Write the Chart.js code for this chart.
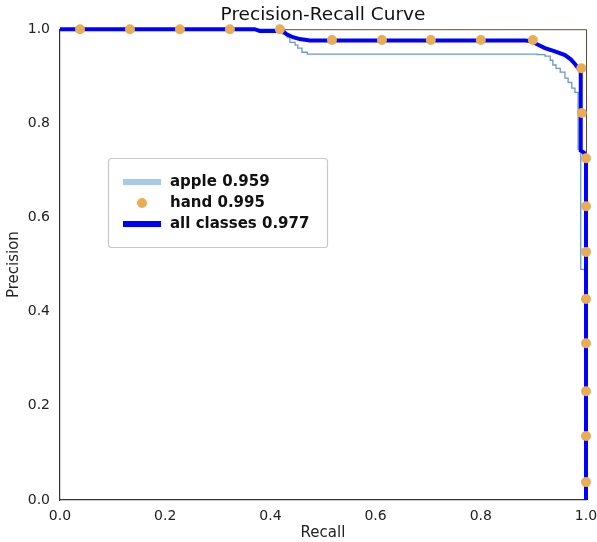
<!DOCTYPE html>
<html>
<head>
<meta charset="utf-8">
<script src="https://cdn.jsdelivr.net/npm/chart.js@4/dist/chart.umd.min.js"></script>
<style>
  html, body { margin: 0; padding: 0; background: #fff; }
  #wrap { width: 597px; height: 542px; position: relative; }
</style>
</head>
<body>
<div id="wrap"><canvas id="prChart"></canvas></div>
<script>
// series labels
const seriesLabels = ['apple 0.959', 'hand 0.995', 'all classes 0.977'];
const axisTicks = [0, 0.2, 0.4, 0.6, 0.8, 1.0];

// apple curve
const appleRecall    = [0, 0.40, 0.418, 0.424, 0.432, 0.437, 0.447, 0.452, 0.46, 0.47, 0.907, 0.922, 0.932, 0.937, 0.943, 0.951, 0.960, 0.966, 0.973, 0.979, 0.985, 0.985, 0.99, 0.99, 0.998, 0.998];
const applePrecision = [1.0, 1.0, 0.996, 0.989, 0.983, 0.972, 0.966, 0.960, 0.951, 0.947, 0.946, 0.943, 0.934, 0.924, 0.917, 0.909, 0.896, 0.887, 0.875, 0.866, 0.856, 0.745, 0.74, 0.49, 0.48, 0];

// hand points
const handRecall    = [0.038, 0.133, 0.228, 0.323, 0.418, 0.517, 0.612, 0.705, 0.80, 0.899, 0.991, 0.992, 1.0, 1.0, 1.0, 1.0, 1.0, 1.0, 1.0, 1.0];
const handPrecision = [1.0, 1.0, 1.0, 1.0, 1.0, 0.977, 0.977, 0.977, 0.977, 0.977, 0.917, 0.822, 0.726, 0.624, 0.527, 0.427, 0.333, 0.231, 0.136, 0.038];

// all classes curve
const allRecall    = [0, 0.37, 0.38, 0.424, 0.431, 0.443, 0.456, 0.475, 0.884, 0.894, 0.907, 0.922, 0.941, 0.960, 0.971, 0.979, 0.99, 0.99, 0.996, 1.0, 1.0];
const allPrecision = [1.0, 1.0, 0.996, 0.996, 0.989, 0.983, 0.979, 0.976, 0.976, 0.975, 0.968, 0.960, 0.953, 0.945, 0.936, 0.926, 0.91, 0.742, 0.738, 0.722, 0];

const toPoints = (xs, ys) => xs.map((x, i) => ({ x: x, y: ys[i] }));

const FONT = "'DejaVu Sans', sans-serif";

const frame = {
    id: 'frame',
    beforeDatasetsDraw(chart) {
        const { ctx, chartArea: a } = chart;
        ctx.save();
        ctx.strokeStyle = '#5a4a3c';
        ctx.lineWidth = 1;
        ctx.beginPath();
        ctx.moveTo(a.left, a.top + 0.5);
        ctx.lineTo(a.right + 0.5, a.top + 0.5);
        ctx.lineTo(a.right + 0.5, a.bottom);
        ctx.stroke();
        ctx.restore();
    },
    afterDraw(chart) {
        // legend box inside plot
        const ctx = chart.ctx;
        const bx = 108, by = 158, bw = 219, bh = 89;
        ctx.save();
        ctx.fillStyle = 'rgba(255,255,255,0.85)';
        ctx.strokeStyle = '#c8c8c8';
        ctx.lineWidth = 1.2;
        ctx.beginPath();
        ctx.roundRect(bx + 0.5, by + 0.5, bw, bh, 3);
        ctx.fill();
        ctx.stroke();

        const rows = [182, 203, 224];
        // apple swatch
        ctx.fillStyle = '#a6cbe6';
        ctx.fillRect(123, rows[0] - 3, 38, 6);
        // hand dot
        ctx.fillStyle = '#e8ad55';
        ctx.beginPath();
        ctx.arc(142, rows[1], 5, 0, Math.PI * 2);
        ctx.fill();
        // all classes swatch
        ctx.fillStyle = '#0000ff';
        ctx.fillRect(123, rows[2] - 3, 38, 6);

        ctx.fillStyle = '#111';
        ctx.font = 'bold 15px ' + FONT;
        ctx.textBaseline = 'middle';
        seriesLabels.forEach((t, i) => ctx.fillText(t, 170, rows[i]));
        ctx.restore();
    }
};

new Chart(document.getElementById('prChart'), {
    type: 'scatter',
    data: {
        datasets: [
            {
                label: seriesLabels[0],
                data: toPoints(appleRecall, applePrecision),
                showLine: true,
                stepped: 'before',
                borderColor: '#6a98c8',
                borderWidth: 1.3,
                pointRadius: 0,
                clip: 3,
                order: 3
            },
            {
                label: seriesLabels[2],
                data: toPoints(allRecall, allPrecision),
                showLine: true,
                borderColor: '#0000ff',
                borderWidth: 4,
                borderJoinStyle: 'miter',
                pointRadius: 0,
                tension: 0,
                clip: 4,
                order: 2
            },
            {
                label: seriesLabels[1],
                data: toPoints(handRecall, handPrecision),
                showLine: false,
                backgroundColor: '#e8ad55',
                borderWidth: 0,
                pointRadius: 5,
                clip: false,
                order: 1
            }
        ]
    },
    options: {
        responsive: true,
        maintainAspectRatio: false,
        animation: false,
        layout: { padding: { left: 0, right: 11, top: 0, bottom: 0 } },
        plugins: {
            legend: { display: false },
            tooltip: { enabled: false },
            title: {
                display: true,
                text: 'Precision-Recall Curve',
                fullSize: false,
                color: '#111',
                font: { family: FONT, size: 18.5, weight: 'normal', lineHeight: 1.2 },
                padding: { top: 4, bottom: 3 }
            }
        },
        scales: {
            x: {
                type: 'linear',
                min: 0,
                max: 1,
                afterFit: s => { s.height = 42; s.paddingLeft = 0; s.paddingRight = 0; },
                afterBuildTicks: s => { s.ticks = axisTicks.map(v => ({ value: v })); },
                grid: { display: false, drawTicks: true, tickLength: 4, tickColor: '#333' },
                border: { display: true, color: '#333', width: 1.2 },
                ticks: {
                    color: '#222',
                    font: { family: FONT, size: 14 },
                    padding: 4,
                    maxRotation: 0,
                    callback: v => v.toFixed(1)
                },
                title: {
                    display: true,
                    text: 'Recall',
                    color: '#222',
                    font: { family: FONT, size: 15 },
                    padding: { top: 0, bottom: 0 }
                }
            },
            y: {
                type: 'linear',
                min: 0,
                max: 1,
                afterFit: s => { s.width = 60; s.paddingTop = 0; s.paddingBottom = 0; },
                afterBuildTicks: s => { s.ticks = axisTicks.map(v => ({ value: v })); },
                grid: { display: false, drawTicks: true, tickLength: 4, tickColor: '#333' },
                border: { display: true, color: '#333', width: 1.2 },
                ticks: {
                    color: '#222',
                    font: { family: FONT, size: 14 },
                    padding: 6,
                    callback: v => v.toFixed(1)
                },
                title: {
                    display: true,
                    text: 'Precision',
                    color: '#222',
                    font: { family: FONT, size: 15 },
                    padding: { top: 5, bottom: 0 }
                }
            }
        }
    },
    plugins: [frame]
});
</script>
</body>
</html>
